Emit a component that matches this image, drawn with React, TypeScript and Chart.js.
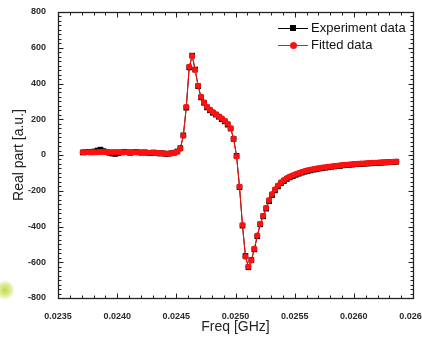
import React, { useEffect, useRef } from "react";
import { Chart, registerables } from "chart.js";

Chart.register(...registerables);

// Frequencies [GHz]
const freq: number[] = [
  0.023709, 0.023734, 0.023759, 0.023784,
  0.023809, 0.023834, 0.023859, 0.023884,
  0.023909, 0.023934, 0.023959, 0.023984,
  0.024009, 0.024034, 0.024059, 0.024084,
  0.024109, 0.024134, 0.024159, 0.024184,
  0.024209, 0.024234, 0.024259, 0.024284,
  0.024309, 0.024334, 0.024359, 0.024384,
  0.024409, 0.024434, 0.024459, 0.024484,
  0.024509, 0.024534, 0.024559, 0.024584,
  0.024609, 0.024634, 0.024659, 0.024684,
  0.024709, 0.024734, 0.024759, 0.024784,
  0.024809, 0.024834, 0.024859, 0.024884,
  0.024909, 0.024934, 0.024959, 0.024984,
  0.025009, 0.025034, 0.025059, 0.025084,
  0.025109, 0.025134, 0.025159, 0.025184,
  0.025209, 0.025234, 0.025259, 0.025284,
  0.025309, 0.025334, 0.025359, 0.025384,
  0.025409, 0.025434, 0.025459, 0.025484,
  0.025509, 0.025534, 0.025559, 0.025584,
  0.025609, 0.025634, 0.025659, 0.025684,
  0.025709, 0.025734, 0.025759, 0.025784,
  0.025809, 0.025834, 0.025859, 0.025884,
  0.025909, 0.025934, 0.025959, 0.025984,
  0.026009, 0.026034, 0.026059, 0.026084,
  0.026109, 0.026134, 0.026159, 0.026184,
  0.026209, 0.026234, 0.026259, 0.026284,
  0.026309, 0.026334, 0.026359,
];

// Experiment data (black squares)
const experiment: number[] = [
  14, 16, 18, 15, 20, 25, 30, 22, 17, 12, 8, 6, 10, 14, 18, 16,
  12, 15, 17, 14, 13, 15, 12, 10, 14, 11, 8, 10, 6, 7, 10, 13,
  20, 38, 110, 265, 490, 556, 478, 385, 322, 292,
  266, 250, 236, 226, 214, 200, 188, 170, 148, 90,
  -5, -180, -395, -565, -628, -588, -528, -455, -388, -343,
  -300, -258, -224, -198, -176, -158, -146, -134, -125, -118,
  -111, -105, -99, -94, -90, -86, -82, -80, -76, -73,
  -71, -69, -66, -64, -62, -61, -58, -57, -55, -54,
  -52, -51, -50, -49, -48, -47, -46, -45, -44, -43,
  -42, -41, -40, -40, -38,
];

// Fitted data (red circles)
const fitted: number[] = [
  15, 15, 16, 16, 16, 16, 17, 17, 17, 17, 17, 17, 17, 16, 16, 16,
  16, 15, 15, 15, 14, 14, 13, 13, 12, 11, 10, 9, 8, 8, 9, 12,
  18, 35, 108, 270, 494, 554, 475, 388, 326, 295,
  270, 253, 240, 228, 217, 205, 192, 175, 150, 92,
  -8, -177, -392, -569, -625, -590, -525, -450, -385, -340,
  -295, -252, -218, -192, -170, -152, -140, -129, -120, -113,
  -106, -100, -95, -90, -86, -82, -79, -76, -73, -70,
  -68, -66, -64, -62, -60, -58, -56, -55, -53, -52,
  -51, -49, -48, -47, -46, -45, -44, -43, -42, -41,
  -40, -40, -39, -38, -37,
];

const X_MIN = 0.0235;
const X_MAX = 0.0265;
const X_STEP = 0.0005;
const X_MINOR = 0.0001;
const Y_MIN = -800;
const Y_MAX = 800;
const Y_STEP = 200;
const Y_MINOR = 25;

const FONT = "'Liberation Sans', Arial, sans-serif";

const frameTicks = {
  id: "frameTicks",
  afterDraw(chart: any) {
    const { ctx, chartArea } = chart;
    const xs = chart.scales.x;
    const ys = chart.scales.y;
    const l = Math.round(chartArea.left) + 0.5;
    const r = Math.round(chartArea.right) + 0.5;
    const t = Math.round(chartArea.top) + 0.5;
    const b = Math.round(chartArea.bottom) + 0.5;
    ctx.save();
    ctx.strokeStyle = "#222";
    ctx.lineWidth = 1.3;
    ctx.strokeRect(l, t, r - l, b - t);
    ctx.lineWidth = 1;
    ctx.beginPath();
    const nx = Math.round((X_MAX - X_MIN) / X_MINOR);
    const perX = Math.round(X_STEP / X_MINOR);
    for (let i = 0; i <= nx; i++) {
      const px = Math.round(xs.getPixelForValue(X_MIN + i * X_MINOR)) + 0.5;
      const len = i % perX === 0 ? 5 : 3;
      ctx.moveTo(px, b);
      ctx.lineTo(px, b - len);
      ctx.moveTo(px, t);
      ctx.lineTo(px, t + len);
    }
    const ny = Math.round((Y_MAX - Y_MIN) / Y_MINOR);
    const perY = Math.round(Y_STEP / Y_MINOR);
    for (let i = 0; i <= ny; i++) {
      const py = Math.round(ys.getPixelForValue(Y_MIN + i * Y_MINOR)) + 0.5;
      const len = i % perY === 0 ? 5 : 3;
      ctx.moveTo(l, py);
      ctx.lineTo(l + len, py);
      ctx.moveTo(r, py);
      ctx.lineTo(r - len, py);
    }
    ctx.stroke();
    ctx.restore();
  },
};

export default function App() {
  const canvasRef = useRef<HTMLCanvasElement | null>(null);

  useEffect(() => {
    document.body.style.margin = "0";
    const canvas = canvasRef.current;
    if (!canvas) return;
    const chart = new Chart(canvas, {
      type: "line",
      data: {
        datasets: [
          {
            label: "Experiment data",
            data: freq.map((f, i) => ({ x: f, y: experiment[i] })),
            borderColor: "#000",
            backgroundColor: "#000",
            borderWidth: 1,
            pointStyle: "rect",
            pointRadius: 4,
            pointBorderWidth: 0,
            order: 1,
          },
          {
            label: "Fitted data",
            data: freq.map((f, i) => ({ x: f, y: fitted[i] })),
            borderColor: "#ff1010",
            backgroundColor: "#ff1010",
            borderWidth: 1,
            pointStyle: "circle",
            pointRadius: 3,
            pointBorderWidth: 0,
            order: 0,
          },
        ],
      },
      options: {
        animation: false,
        responsive: false,
        devicePixelRatio: 1,
        layout: { padding: { top: 12, right: 9, left: 0, bottom: 0 } },
        plugins: {
          legend: { display: false },
          tooltip: { enabled: false },
        },
        scales: {
          x: {
            type: "linear",
            min: X_MIN,
            max: X_MAX,
            grid: { display: false },
            border: { display: false },
            ticks: {
              stepSize: X_STEP,
              autoSkip: false,
              maxRotation: 0,
              padding: 5,
              color: "#2a2a2a",
              font: { family: FONT, size: 9, weight: "bold" },
              callback: (v: any) => Number(v).toFixed(4),
            },
            title: {
              display: true,
              text: "Freq [GHz]",
              color: "#222",
              font: { family: FONT, size: 14 },
              padding: { top: 0, bottom: 5 },
            },
            afterFit: (s: any) => {
              s.height = 43;
              s.paddingLeft = 0;
              s.paddingRight = 0;
            },
          },
          y: {
            type: "linear",
            min: Y_MIN,
            max: Y_MAX,
            grid: { display: false },
            border: { display: false },
            ticks: {
              stepSize: Y_STEP,
              padding: 4,
              color: "#2a2a2a",
              font: { family: FONT, size: 9, weight: "bold" },
              callback: (v: any) => String(Math.round(Number(v))),
            },
            title: {
              display: true,
              text: "Real part [a.u.]",
              color: "#222",
              font: { family: FONT, size: 14 },
              padding: { top: 11, bottom: 0 },
            },
            afterFit: (s: any) => {
              s.width = 58;
              s.paddingTop = 0;
              s.paddingBottom = 0;
            },
          },
        },
      },
      plugins: [frameTicks],
    });
    return () => chart.destroy();
  }, []);

  const legendText: React.CSSProperties = {
    position: "absolute",
    left: 311,
    fontFamily: FONT,
    fontSize: 13,
    color: "#111",
    lineHeight: "14px",
    whiteSpace: "nowrap",
  };

  return (
    <div style={{ position: "relative", width: 422, height: 341, background: "#fff", overflow: "hidden" }}>
      <canvas ref={canvasRef} width={422} height={341} style={{ display: "block", width: 422, height: 341 }} />
      <div
        style={{
          position: "absolute",
          left: -4,
          top: 280,
          width: 18,
          height: 20,
          borderRadius: "50%",
          background: "radial-gradient(circle, rgba(190,215,60,0.95) 0%, rgba(200,225,90,0.6) 45%, rgba(255,255,255,0) 75%)",
        }}
      />
      {/* Legend */}
      <div style={{ position: "absolute", left: 278, top: 28, width: 30, height: 1, background: "#000" }} />
      <div style={{ position: "absolute", left: 290, top: 25, width: 6, height: 6, background: "#000" }} />
      <div style={{ ...legendText, top: 21 }}>Experiment data</div>
      <div style={{ position: "absolute", left: 278, top: 45, width: 30, height: 1, background: "#ff1010" }} />
      <div style={{ position: "absolute", left: 290, top: 42, width: 7, height: 7, borderRadius: "50%", background: "#ff1010" }} />
      <div style={{ ...legendText, top: 38 }}>Fitted data</div>
    </div>
  );
}
